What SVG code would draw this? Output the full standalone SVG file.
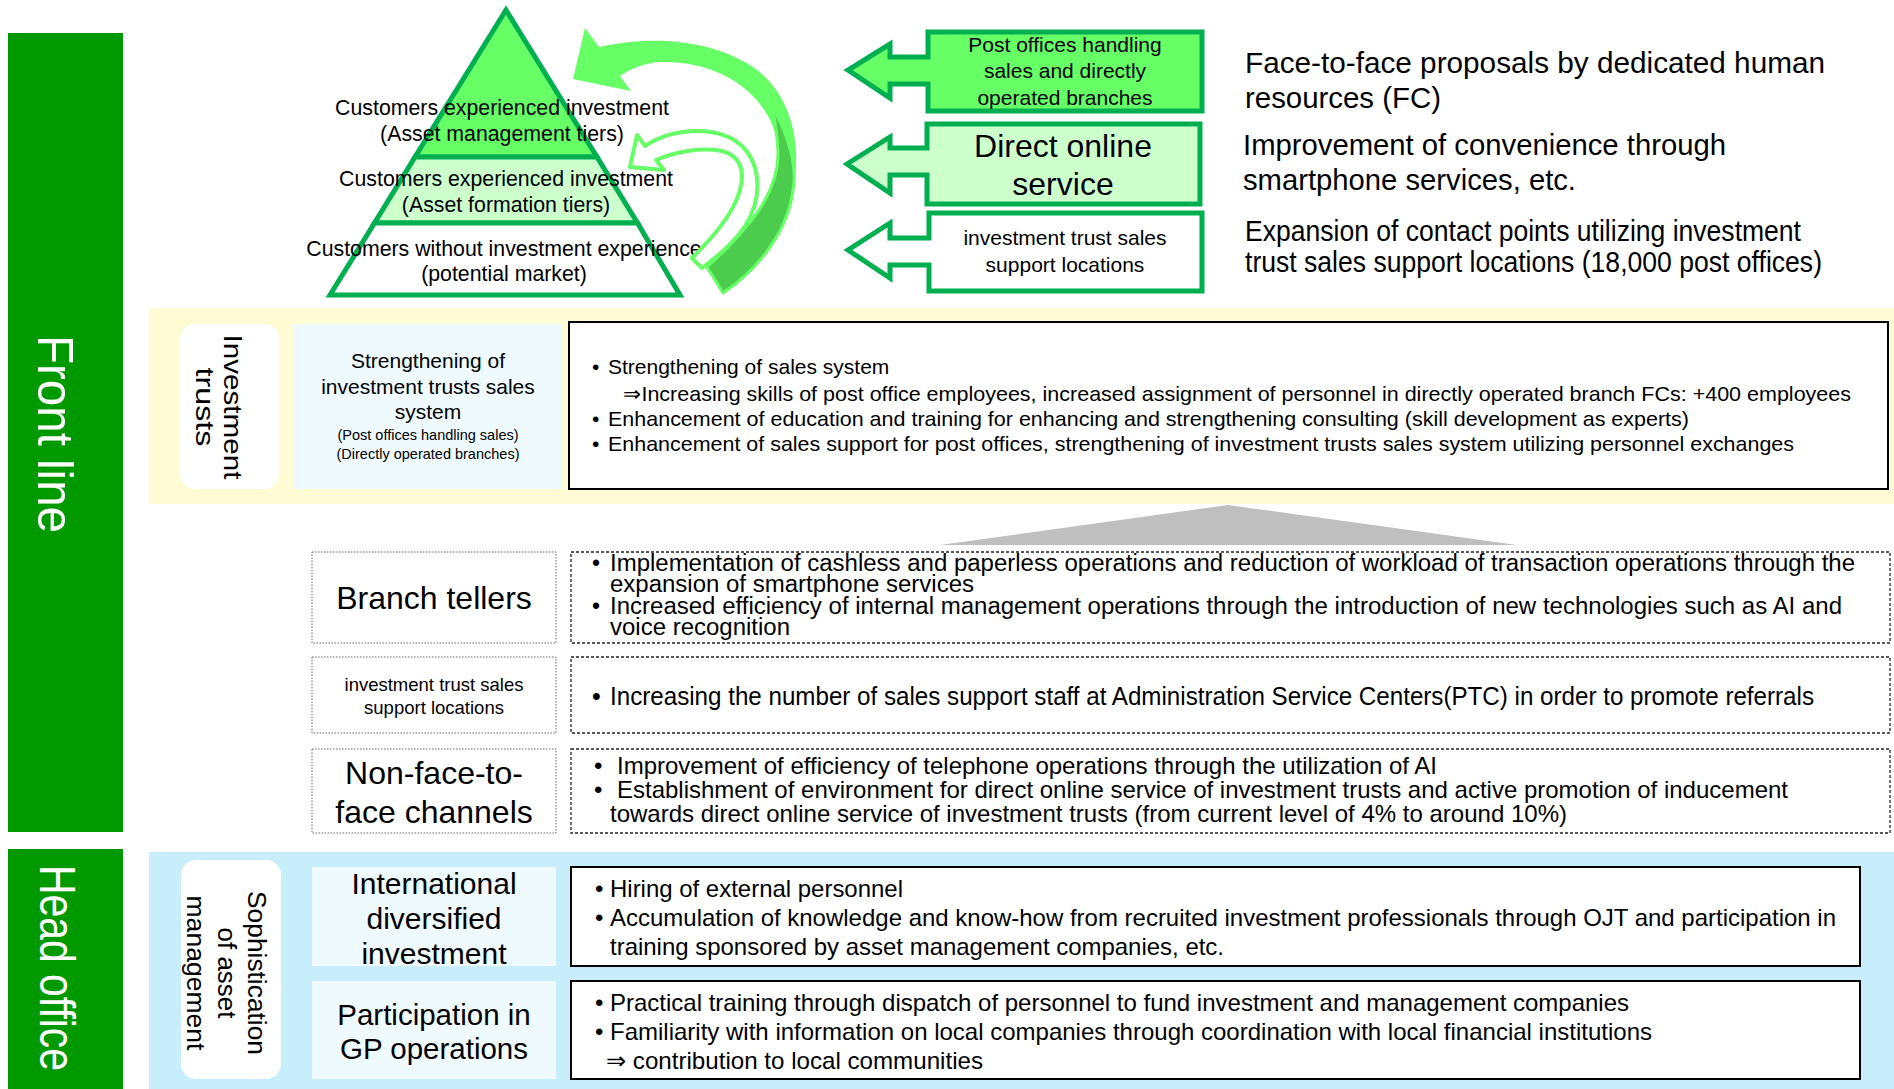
<svg xmlns="http://www.w3.org/2000/svg" width="1894" height="1089" viewBox="0 0 1894 1089">
<style>
text{font-family:"Liberation Sans",Arial,sans-serif;fill:#000}
.bar{fill:#009900}
.bartxt{fill:#fff;font-size:50px}
.rot{dominant-baseline:central}
.g5{stroke:#00b050;stroke-width:5;stroke-linejoin:miter}
.blk{fill:#fff;stroke:#000;stroke-width:2}
.dot{fill:#fff;stroke:#666;stroke-width:1;stroke-dasharray:1.5 1.5}
.dash{fill:#fff;stroke:#222;stroke-width:1.3;stroke-dasharray:3 2}
.lb{fill:#eefafd}
.wb{fill:#fff}
.c{text-anchor:middle}
.f21{font-size:21px}
.f24{font-size:24px}
.f25{font-size:25px}
.f23{font-size:23px}
.f29{font-size:29px}
</style>

<g id="front-line-bar">
<rect class="bar" x="8" y="33" width="115" height="799"/>
<text class="bartxt rot c" transform="translate(55,434) rotate(90)" x="0" y="0" textLength="198" lengthAdjust="spacingAndGlyphs">Front line</text>
</g>
<g id="head-office-bar">
<rect class="bar" x="8" y="849" width="115" height="240"/>
<text class="bartxt rot c" transform="translate(57,968) rotate(90)" x="0" y="0" textLength="206" lengthAdjust="spacingAndGlyphs">Head office</text>
</g>

<g id="pyramid">
<polygon class="g5" fill="#66ff66" points="506,10 597,157 415,157"/>
<polygon class="g5" fill="#ccffcc" points="415,157 597,157 637.5,223 374.5,223"/>
<polygon class="g5" fill="#ffffff" points="374.5,223 637.5,223 680,295 330,295"/>
<text class="c" style="font-size:21.3px" x="502" y="115">Customers experienced investment</text>
<text class="c" style="font-size:21.3px" x="502" y="141">(Asset management tiers)</text>
<text class="c" style="font-size:21.3px" x="506" y="186">Customers experienced investment</text>
<text class="c" style="font-size:21.3px" x="506" y="212">(Asset formation tiers)</text>
<text class="c" style="font-size:21.3px" x="504" y="256">Customers without investment experience</text>
<text class="c" style="font-size:21.3px" x="504" y="281">(potential market)</text>
</g>

<g id="connectors">
<path fill="#66ff66" d="M707,267 C745,232 780,195 778,150 C776,105 730,60 660,62 C645,63 632,68 620,76 L631,91 L573,79 L585,28 L599,47 C640,38 700,35 750,65 C790,90 800,140 795,175 C790,220 765,260 723,293 Z"/>
<path fill="#4ccc4c" stroke="#66ff66" stroke-width="3" d="M772,108 C790,135 797,170 793,190 C788,230 760,268 723,293 L707,267 C745,232 780,195 778,150 C777,135 775,120 772,108 Z"/>
<path fill="#ffffff" stroke="#66ff66" stroke-width="4" stroke-linejoin="round" d="M630,167 L637,135 L645,146 C672,128 718,124 742,146 C762,166 762,200 745,226 C732,245 715,258 702,268 L692,258 C712,238 733,215 740,190 C746,168 738,155 722,151 C700,147 675,152 656,160 L664,170 Z"/>
<polygon fill="#bfbfbf" points="1228,505 1517,545 940,545"/>
</g>

<g id="channel-post-offices">
<polygon class="g5" fill="#66ff66" points="928,32 1202,32 1202,111 928,111 928,84 890,84 890,98 848,70 890,44 890,57 928,57"/>
<text class="c f21" x="1065" y="52">Post offices handling</text>
<text class="c f21" x="1065" y="78">sales and directly</text>
<text class="c f21" x="1065" y="105">operated branches</text>
</g>
<g id="channel-direct-online">
<polygon class="g5" fill="#ccffcc" points="927,124 1200,124 1200,204 927,204 927,175 890,175 890,193 847,164 890,137 890,148 927,148"/>
<text class="c" style="font-size:32px" x="1063" y="157">Direct online</text>
<text class="c" style="font-size:32px" x="1063" y="195">service</text>
</g>
<g id="channel-support-locations">
<polygon class="g5" fill="#ffffff" points="929,213 1202,213 1202,291 929,291 929,265 890,265 890,278 848,250 890,223 890,238 929,238"/>
<text class="c f21" x="1065" y="245">investment trust sales</text>
<text class="c f21" x="1065" y="272">support locations</text>
</g>

<g id="channel-descriptions">
<text class="f29" x="1245" y="73" textLength="580" lengthAdjust="spacingAndGlyphs">Face-to-face proposals by dedicated  human</text>
<text class="f29" x="1245" y="108" textLength="196" lengthAdjust="spacingAndGlyphs">resources (FC)</text>
<text class="f29" x="1243" y="155" textLength="483" lengthAdjust="spacingAndGlyphs">Improvement of convenience through</text>
<text class="f29" x="1243" y="190" textLength="333" lengthAdjust="spacingAndGlyphs">smartphone services, etc.</text>
<text class="f29" x="1245" y="241" textLength="556" lengthAdjust="spacingAndGlyphs">Expansion of contact points utilizing investment</text>
<text class="f29" x="1245" y="272" textLength="577" lengthAdjust="spacingAndGlyphs">trust sales support locations (18,000 post offices)</text>
</g>

<g id="investment-trusts">
<rect x="149" y="308" width="1745" height="196" fill="#fffbd5"/>
<rect class="wb" x="180" y="324" width="99" height="165" rx="15"/>
<text class="rot c" style="font-size:25px" transform="translate(219,407) rotate(90)" x="0" y="-14" textLength="145" lengthAdjust="spacingAndGlyphs">Investment</text>
<text class="rot c" style="font-size:25px" transform="translate(219,407) rotate(90)" x="0" y="14" textLength="79" lengthAdjust="spacingAndGlyphs">trusts</text>
<rect class="lb" x="294" y="324" width="268" height="165"/>
<text class="c f21" x="428" y="368">Strengthening of</text>
<text class="c f21" x="428" y="394">investment trusts sales</text>
<text class="c f21" x="428" y="419">system</text>
<text class="c" style="font-size:14.5px" x="428" y="440">(Post offices handling sales)</text>
<text class="c" style="font-size:14.5px" x="428" y="459">(Directly operated branches)</text>
<rect class="blk" x="569" y="322" width="1319" height="167"/>
<text class="f21" x="592" y="374">•</text>
<text class="f21" x="608" y="374">Strengthening of sales system</text>
<text class="f21" x="623" y="401" textLength="1228" lengthAdjust="spacingAndGlyphs">⇒Increasing skills of post office employees, increased assignment of personnel in directly operated branch FCs: +400 employees</text>
<text class="f21" x="592" y="426">•</text>
<text class="f21" x="608" y="426" textLength="1081" lengthAdjust="spacingAndGlyphs">Enhancement of education and training for enhancing and strengthening consulting (skill development as experts)</text>
<text class="f21" x="592" y="451">•</text>
<text class="f21" x="608" y="451" textLength="1186" lengthAdjust="spacingAndGlyphs">Enhancement of sales support for post offices, strengthening of investment trusts sales system utilizing personnel exchanges</text>
</g>

<g id="branch-tellers">
<rect class="dot" x="312" y="552" width="244" height="91"/>
<text class="c" style="font-size:32px" x="434" y="609">Branch tellers</text>
<rect class="dash" x="571" y="552" width="1319" height="91"/>
<text class="f23" x="592" y="571">•</text>
<text class="f23" x="610" y="571" textLength="1245" lengthAdjust="spacingAndGlyphs">Implementation of cashless and paperless operations and reduction of workload of transaction operations through the</text>
<text class="f23" x="610" y="592" textLength="364" lengthAdjust="spacingAndGlyphs">expansion of smartphone services</text>
<text class="f23" x="592" y="614">•</text>
<text class="f23" x="610" y="614" textLength="1232" lengthAdjust="spacingAndGlyphs">Increased efficiency of internal management operations through the introduction of new technologies such as AI and</text>
<text class="f23" x="610" y="635" textLength="180" lengthAdjust="spacingAndGlyphs">voice recognition</text>
</g>

<g id="support-locations">
<rect class="dot" x="312" y="657" width="244" height="76"/>
<text class="c" style="font-size:18.5px" x="434" y="691">investment trust sales</text>
<text class="c" style="font-size:18.5px" x="434" y="714">support locations</text>
<rect class="dash" x="571" y="657" width="1319" height="76"/>
<text class="f25" x="592" y="705">•</text>
<text class="f25" x="610" y="705" textLength="1204" lengthAdjust="spacingAndGlyphs">Increasing the number of sales support staff  at Administration Service Centers(PTC) in order to promote referrals</text>
</g>

<g id="non-face-to-face">
<rect class="dot" x="312" y="749" width="244" height="84"/>
<text class="c" style="font-size:32px" x="434" y="784">Non-face-to-</text>
<text class="c" style="font-size:32px" x="434" y="823">face channels</text>
<rect class="dash" x="571" y="749" width="1319" height="84"/>
<text class="f24" x="594" y="774">•</text>
<text class="f24" x="617" y="774" textLength="820" lengthAdjust="spacingAndGlyphs">Improvement of efficiency of telephone operations through the utilization of AI</text>
<text class="f24" x="594" y="798">•</text>
<text class="f24" x="617" y="798" textLength="1171" lengthAdjust="spacingAndGlyphs">Establishment of environment for direct online service of investment trusts and active promotion of inducement</text>
<text class="f24" x="610" y="822" textLength="957" lengthAdjust="spacingAndGlyphs">towards direct online service of investment trusts (from current level of 4% to around 10%)</text>
</g>

<g id="asset-management">
<rect x="149" y="852" width="1745" height="237" fill="#c9eefb"/>
<rect class="wb" x="181" y="860" width="100" height="219" rx="15"/>
<text class="rot c" style="font-size:26px" transform="translate(227,973) rotate(90)" x="0" y="-30" textLength="164" lengthAdjust="spacingAndGlyphs">Sophistication</text>
<text class="rot c" style="font-size:26px" transform="translate(227,973) rotate(90)" x="0" y="0" textLength="91" lengthAdjust="spacingAndGlyphs">of asset</text>
<text class="rot c" style="font-size:26px" transform="translate(227,973) rotate(90)" x="0" y="31" textLength="155" lengthAdjust="spacingAndGlyphs">management</text>
</g>

<g id="international-investment">
<rect class="lb" x="312" y="867" width="244" height="99"/>
<text class="c" style="font-size:30px" x="434" y="894">International</text>
<text class="c" style="font-size:30px" x="434" y="929">diversified</text>
<text class="c" style="font-size:30px" x="434" y="964">investment</text>
<rect class="blk" x="571" y="867" width="1289" height="99"/>
<text class="f24" x="595" y="897">•</text>
<text class="f24" x="610" y="897" textLength="293" lengthAdjust="spacingAndGlyphs">Hiring of external personnel</text>
<text class="f24" x="595" y="926">•</text>
<text class="f24" x="610" y="926" textLength="1226" lengthAdjust="spacingAndGlyphs">Accumulation of knowledge and know-how from recruited investment professionals through OJT and participation in</text>
<text class="f24" x="610" y="955" textLength="614" lengthAdjust="spacingAndGlyphs">training sponsored by asset management companies, etc.</text>
</g>

<g id="gp-operations">
<rect class="lb" x="312" y="981" width="244" height="98"/>
<text class="c" style="font-size:29.5px" x="434" y="1025">Participation in</text>
<text class="c" style="font-size:29.5px" x="434" y="1059">GP operations</text>
<rect class="blk" x="571" y="981" width="1289" height="98"/>
<text class="f24" x="595" y="1011">•</text>
<text class="f24" x="610" y="1011" textLength="1019" lengthAdjust="spacingAndGlyphs">Practical training through dispatch of personnel to fund investment and management companies</text>
<text class="f24" x="595" y="1040">•</text>
<text class="f24" x="610" y="1040" textLength="1042" lengthAdjust="spacingAndGlyphs">Familiarity with information on local companies through coordination with local financial institutions</text>
<text class="f24" x="606" y="1069" textLength="377" lengthAdjust="spacingAndGlyphs">⇒ contribution to local communities</text>
</g>
</svg>
